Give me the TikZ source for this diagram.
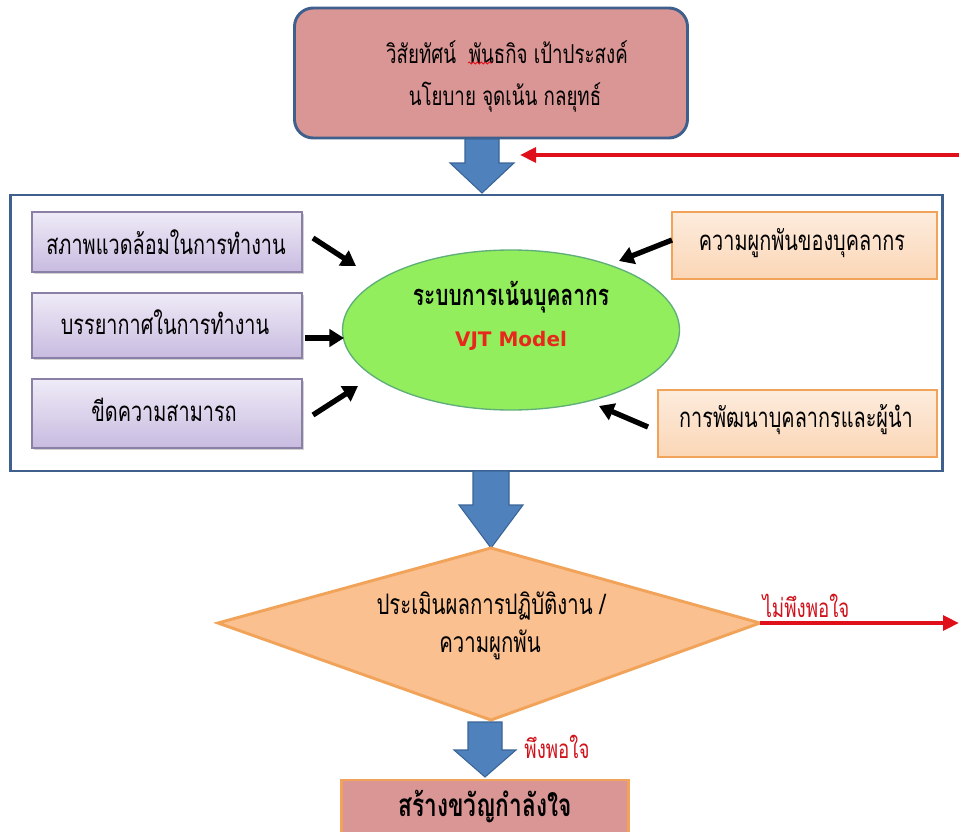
\documentclass[tikz,border=0pt]{standalone}
\usepackage{fontspec}
\usetikzlibrary{arrows.meta,shapes.geometric,decorations.pathmorphing,calc,shadows}
\newfontfamily\thai[Script=Thai,FakeStretch=0.72]{Loma}
\newfontfamily\latinb{DejaVu Sans}
\definecolor{navy}{HTML}{3F5F8C}
\definecolor{topfill}{HTML}{D99694}
\definecolor{barrowfill}{HTML}{4F81BD}
\definecolor{barrowline}{HTML}{3A6496}
\definecolor{lavtop}{HTML}{EFEBF7}
\definecolor{lavbot}{HTML}{C8BBE0}
\definecolor{lavline}{HTML}{8A80A6}
\definecolor{peachtop}{HTML}{FDECDD}
\definecolor{peachbot}{HTML}{FBD6B6}
\definecolor{orangeline}{HTML}{F2A35A}
\definecolor{ellfill}{HTML}{92EE5C}
\definecolor{ellline}{HTML}{5FAE7A}
\definecolor{diafill}{HTML}{FAC090}
\definecolor{redline}{HTML}{E0101A}
\definecolor{redtext}{HTML}{D0121B}
\definecolor{vjtred}{HTML}{E8281C}
\newcommand\BlockArrow[6]{% cx, ytop, yhead, ytip, shaft half, head half
  \path[fill=barrowfill,draw=barrowline,line width=0.8pt]
    ({#1-#5},#2) -- ({#1+#5},#2) -- ({#1+#5},#3) -- ({#1+#6},#3) -- (#1,#4)
    -- ({#1-#6},#3) -- ({#1-#5},#3) -- cycle;}
\begin{document}
\begin{tikzpicture}[x=0.75pt,y=-0.75pt,
  lavbox/.style={draw=lavline,line width=0.8pt,top color=lavtop,bottom color=lavbot,
    minimum width=270*0.75pt,minimum height=#1,inner sep=0pt,
    drop shadow={opacity=0.35,shadow xshift=1.2pt,shadow yshift=-1.2pt}},
  peachbox/.style={draw=orangeline,line width=2.2pt,top color=peachtop,bottom color=peachbot,
    inner sep=0pt},
  txt/.style={font=\thai\fontsize{20.7}{24}\selectfont,inner sep=0pt},
  blk/.style={line width=4pt,-{Triangle[length=11pt,width=13pt]}},
  redarr/.style={draw=redline,line width=3.5pt,-{Triangle[length=12pt,width=11pt]}}]
\useasboundingbox (0,0) rectangle (959,831);
% top box
\node[draw=navy,line width=2.2pt,fill=topfill,rounded corners=14pt,
  minimum width=393*0.75pt,minimum height=130*0.75pt] (top) at (491,73) {};
\node[font=\thai\fontsize{19.5}{23}\selectfont,inner sep=0pt] (t1) at (507,52) {วิสัยทัศน์\ \ พันธกิจ เป้าประสงค์};
\node[font=\thai\fontsize{19.5}{23}\selectfont,inner sep=0pt] (t2) at (505,97) {นโยบาย จุดเน้น กลยุทธ์};
\draw[redline,line width=0.6pt,decorate,
  decoration={snake,amplitude=0.8pt,segment length=3pt}] (468,63) -- (492,63);
% arrow 1
\BlockArrow{482}{139}{163}{193}{17}{32}
% container
\node[draw=navy,line width=2.2pt,fill=white,minimum width=932*0.75pt,
  minimum height=276*0.75pt,inner sep=0pt] (box) at (476.5,333) {};
% red feedback arrow
\coordinate (fbstart) at (959,155);
\coordinate (fbend) at (520,155);
\draw[redarr] (fbstart) -- (fbend);
% left boxes
\node[lavbox=60*0.75pt] (l1) at (167,242) {};
\node[txt] at (166,242) {สภาพแวดล้อมในการทำงาน};
\node[lavbox=65*0.75pt] (l2) at (167,325.5) {};
\node[txt] at (165,322) {บรรยากาศในการทำงาน};
\node[lavbox=69*0.75pt] (l3) at (167,413.5) {};
\node[txt] at (164,410) {ขีดความสามารถ};
% ellipse
\node[ellipse,draw=ellline,line width=1pt,fill=ellfill,minimum width=337*0.75pt,
  minimum height=160*0.75pt] (ell) at (511,330) {};
\node[font=\thai\bfseries\fontsize{21.8}{25}\selectfont,inner sep=0pt] (e1) at (511,297) {ระบบการเน้นบุคลากร};
\node[font=\latinb\bfseries\fontsize{15}{18}\selectfont,text=vjtred,inner sep=0pt] (e2) at (511,341) {VJT Model};
% right boxes
\node[peachbox,minimum width=265*0.75pt,minimum height=67*0.75pt] (r1) at (804.5,245.5) {};
\node[txt] at (802,243) {ความผูกพันของบุคลากร};
\node[peachbox,minimum width=279*0.75pt,minimum height=67*0.75pt] (r2) at (797.5,423.5) {};
\node[txt] at (796,420) {การพัฒนาบุคลากรและผู้นำ};
% black arrows
\coordinate (a1s) at (313,238); \coordinate (a1e) at (356,266);
\coordinate (a2s) at (305,338); \coordinate (a2e) at (344,338);
\coordinate (a3s) at (313,415); \coordinate (a3e) at (358,386);
\coordinate (a4s) at (672,240); \coordinate (a4e) at (619,261);
\coordinate (a5s) at (648,427); \coordinate (a5e) at (599,406);
\draw[blk] (a1s) -- (a1e);
\draw[blk] (a2s) -- (a2e);
\draw[blk] (a3s) -- (a3e);
\draw[blk] (a4s) -- (a4e);
\draw[blk] (a5s) -- (a5e);
% arrow 2
\BlockArrow{491}{471}{505}{548}{18}{32}
% diamond
\path[fill=diafill,draw=orangeline,line width=2.2pt] (218,623) coordinate (dw) -- (491,548) coordinate (dn)
  -- (760,623) coordinate (de) -- (491,720) coordinate (ds) -- cycle;
\node[txt,font=\thai\fontsize{21.2}{24}\selectfont] (d1) at (491,606) {ประเมินผลการปฏิบัติงาน /};
\node[txt,font=\thai\fontsize{21.2}{24}\selectfont] (d2) at (490,645) {ความผูกพัน};
% red exit
\coordinate (exitend) at (959,623);
\draw[redarr] (de) -- (exitend);
\node[font=\thai\fontsize{19.5}{22}\selectfont,text=redtext,inner sep=0pt] at (806,606) {ไม่พึงพอใจ};
% arrow 3
\BlockArrow{485}{722}{750}{777}{17}{31}
\node[font=\thai\fontsize{19.5}{22}\selectfont,text=redtext,inner sep=0pt] at (557,747) {พึงพอใจ};
% bottom box
\node[draw=orangeline,line width=2.2pt,fill=topfill,minimum width=287*0.75pt,
  minimum height=60*0.75pt,inner sep=0pt] (bot) at (485,810) {};
\node[font=\thai\bfseries\fontsize{23.6}{27}\selectfont,inner sep=0pt] (b1) at (485,807) {สร้างขวัญกำลังใจ};
\end{tikzpicture}
\end{document}
